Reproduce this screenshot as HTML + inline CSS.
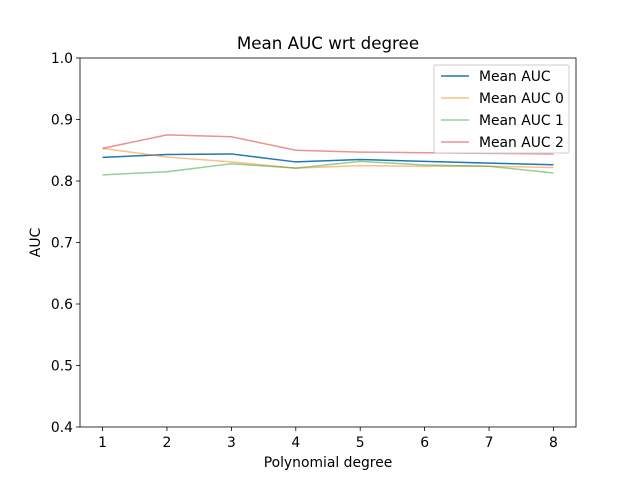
<!DOCTYPE html>
<html><head><meta charset="utf-8"><style>
body{margin:0;background:#fff}
svg text{font-family:"DejaVu Sans","Liberation Sans",sans-serif;fill:#000}
</style></head><body>
<svg id="c" width="640" height="480" xmlns="http://www.w3.org/2000/svg"></svg>
<script>
const degrees=[1,2,3,4,5,6,7,8];
const meanAuc=[0.8385,0.843,0.844,0.831,0.835,0.832,0.829,0.8265];
const meanAuc0=[0.853,0.839,0.831,0.821,0.825,0.824,0.824,0.822];
const meanAuc1=[0.810,0.815,0.828,0.821,0.832,0.826,0.824,0.813];
const meanAuc2=[0.853,0.875,0.872,0.850,0.847,0.846,0.845,0.844];
const yTicks=[0.4,0.5,0.6,0.7,0.8,0.9,1.0];
const seriesNames=["Mean AUC","Mean AUC 0","Mean AUC 1","Mean AUC 2"];
const colors=["#1f77b4","rgba(255,127,14,0.5)","rgba(44,160,44,0.5)","rgba(214,39,40,0.5)"];
const L=80,R=576,T=58,B=427;
const xs=v=>L+(v-0.65)/(8.35-0.65)*(R-L);
const ys=v=>B-(v-0.4)/0.6*(B-T);
const svg=document.getElementById('c');
const NS='http://www.w3.org/2000/svg';
function mk(t,a,txt){const e=document.createElementNS(NS,t);for(const k in a)e.setAttribute(k,a[k]);if(txt!=null)e.textContent=txt;svg.appendChild(e);return e;}
let e=mk('text',{x:(L+R)/2,y:49,'text-anchor':'middle','font-size':16.7},'Mean AUC wrt degree');


degrees.forEach(d=>{
 let t=mk('line',{x1:xs(d),x2:xs(d),y1:B,y2:B+4,stroke:'#000','stroke-width':0.8});
 
 
 let l=mk('text',{x:xs(d),y:B+20,'text-anchor':'middle','font-size':13.9},String(d));
 
 
});
yTicks.forEach(v=>{
 let t=mk('line',{x1:L-4,x2:L,y1:ys(v),y2:ys(v),stroke:'#000','stroke-width':0.8});
 
 
 let l=mk('text',{x:L-7,y:ys(v)+5,'text-anchor':'end','font-size':13.9},v.toFixed(1));
 
 
});
e=mk('text',{x:(L+R)/2,y:467,'text-anchor':'middle','font-size':13.9},'Polynomial degree');


e=mk('text',{x:0,y:0,'text-anchor':'middle','font-size':13.9,transform:`translate(40,${(T+B)/2}) rotate(-90)`},'AUC');


[meanAuc,meanAuc0,meanAuc1,meanAuc2].forEach((s,i)=>{
 let p=mk('polyline',{points:s.map((v,j)=>xs(degrees[j])+','+ys(v)).join(' '),fill:'none',stroke:colors[i],'stroke-width':1.5});
 
 
});
e=mk('rect',{x:L,y:T,width:R-L,height:B-T,fill:'none',stroke:'#000','stroke-width':0.8});


e=mk('rect',{x:434,y:65,width:135,height:88,rx:2,fill:'rgba(255,255,255,0.8)',stroke:'#ccc','stroke-width':1});


seriesNames.forEach((n,i)=>{
 const y=76+i*22;
 let ln=mk('line',{x1:441,x2:469,y1:y,y2:y,stroke:colors[i],'stroke-width':1.5});
 
 
 let t=mk('text',{x:479,y:y+5,'font-size':13.9},n);
 
 
});
</script>
</body></html>
